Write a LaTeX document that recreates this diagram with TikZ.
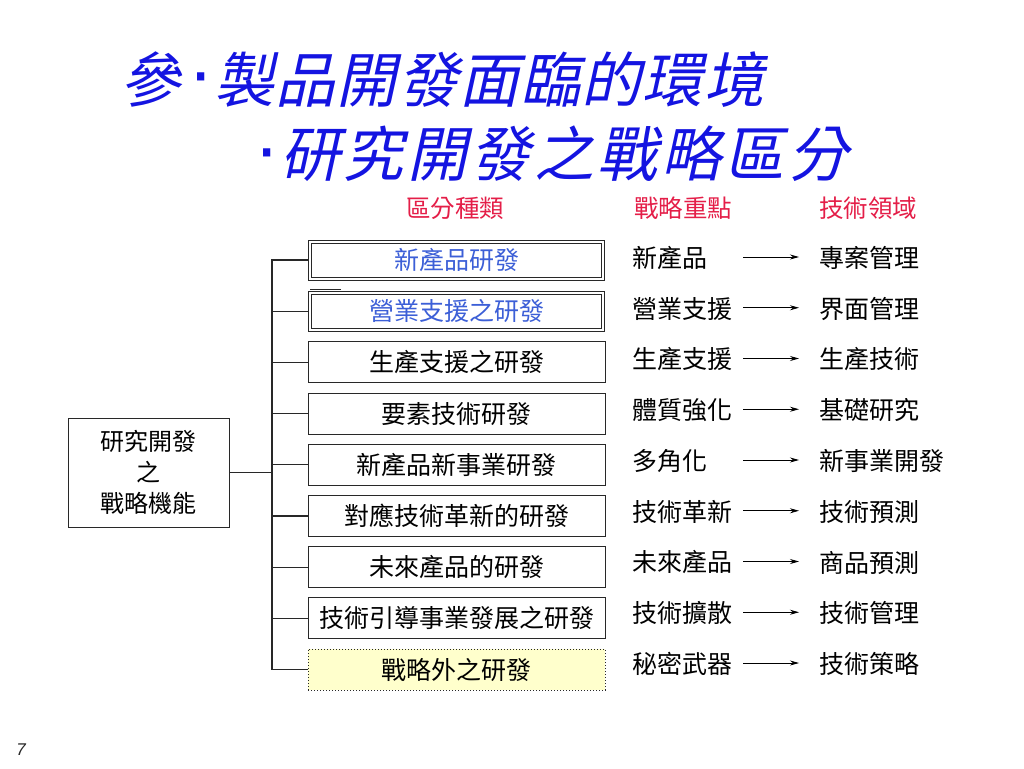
\documentclass[tikz,border=0pt]{standalone}
\usepackage{fontspec}
\setmainfont{Noto Sans CJK TC}
\newfontfamily\titlefont[FakeSlant=0.22,LetterSpace=2]{Noto Sans CJK TC}
\newfontfamily\titlefontb[FakeSlant=0.22,LetterSpace=5.8]{Noto Sans CJK TC}
\newfontfamily\dotfont{Liberation Sans}
\newfontfamily\numfont{Liberation Sans}
\newcommand{\tdot}[1]{{\dotfont\fontsize{76}{76}\selectfont\raisebox{#1}{·}}}
\usetikzlibrary{arrows.meta}
\pgfdeclarelayer{background}
\pgfsetlayers{background,main}
\definecolor{titleblue}{RGB}{20,20,225}
\definecolor{headred}{RGB}{228,30,72}
\definecolor{boxblue}{RGB}{60,95,215}
\definecolor{paleyellow}{RGB}{255,255,204}
\definecolor{linegray}{RGB}{40,40,40}
\begin{document}
\begin{tikzpicture}[x=1pt,y=-1pt,
  txt/.style={inner sep=0pt, font=\fontsize{25}{28}\selectfont},
  catbox/.style={draw=linegray, line width=1pt, fill=white, minimum width=297pt, minimum height=41pt, inner sep=0pt, font=\fontsize{25}{28}\selectfont},
  dblbox/.style={catbox, double=white, double distance=2pt, minimum width=293pt, minimum height=37pt, text=boxblue},
  extbox/.style={catbox, dotted, fill=paleyellow},
  head/.style={inner sep=0pt, text=headred, font=\fontsize{24.5}{28}\selectfont},
  conn/.style={draw=linegray, line width=1.2pt},
  arr/.style={draw=black, line width=0.8pt, -{Stealth[length=9pt,width=5pt]}},
  ttl/.style={inner sep=0pt, anchor=base west, text=titleblue}
]
\useasboundingbox (0,0) rectangle (1024,768);

% title
\node[ttl, font=\titlefont\fontsize{60}{70}\selectfont] (t1) at (120,102) {參\hspace{8pt}\tdot{5pt}\hspace{1pt}製品開發面臨的環境};
\node[ttl, font=\titlefontb\fontsize{60}{70}\selectfont] (t2) at (254,176) {\tdot{3pt}\hspace{1pt}研究開發之戰略區分};

% headers
\node[head] (h1) at (455,208) {區分種類};
\node[head] (h2) at (683,208) {戰略重點};
\node[head] (h3) at (868,208) {技術領域};

% category boxes
\node[dblbox] (b1) at (456.5,260.0) {新產品研發};
\node[dblbox] (b2) at (456.5,311.2) {營業支援之研發};
\node[catbox] (b3) at (456.5,362.4) {生產支援之研發};
\node[catbox] (b4) at (456.5,413.6) {要素技術研發};
\node[catbox] (b5) at (456.5,464.8) {新產品新事業研發};
\node[catbox] (b6) at (456.5,516.0) {對應技術革新的研發};
\node[catbox] (b7) at (456.5,567.2) {未來產品的研發};
\node[catbox] (b8) at (456.5,618.4) {技術引導事業發展之研發};
\node[extbox] (b9) at (456.5,669.6) {戰略外之研發};

% left box
\node[draw=linegray, line width=1pt, minimum width=161pt, minimum height=109pt, inner sep=0pt, align=center,
      font=\fontsize{24}{31}\selectfont] (L) at (148.5,472.5) {研究開發\\之\\戰略機能};

% tree connectors
\coordinate (trunk) at (272,260);
\begin{pgfonlayer}{background}
\draw[conn] (b1.west) -- (b1.west -| trunk) |- (b9.west);
\foreach \i in {2,...,8} {\draw[conn] (b\i.west) -- (b\i.west -| trunk);}
\draw[conn] (L.east) -- (L.east -| trunk);
\coordinate (stray) at (341,289.5);
\draw[linegray, line width=1pt] (stray) -- (stray -| b2.west);
\end{pgfonlayer}

% middle and right columns
\foreach \i/\m/\r in {1/新產品/專案管理, 2/營業支援/界面管理, 3/生產支援/生產技術,
  4/體質強化/基礎研究, 5/多角化/新事業開發, 6/技術革新/技術預測,
  7/未來產品/商品預測, 8/技術擴散/技術管理, 9/秘密武器/技術策略} {
  \pgfmathsetmacro{\yy}{258+50.75*(\i-1)}
  \node[txt, anchor=west] (m\i) at (632,\yy) {\m};
  \node[txt, anchor=west] (r\i) at (819,\yy) {\r};
  \coordinate (s\i) at (743,\yy-1);
  \coordinate (e\i) at (799,\yy-1);
  \draw[arr] (s\i) -- (e\i);
}

% page number
\node[inner sep=0pt, text=linegray, font=\numfont\itshape\fontsize{17}{19}\selectfont] (pn) at (21,750) {7};
\end{tikzpicture}
\end{document}
